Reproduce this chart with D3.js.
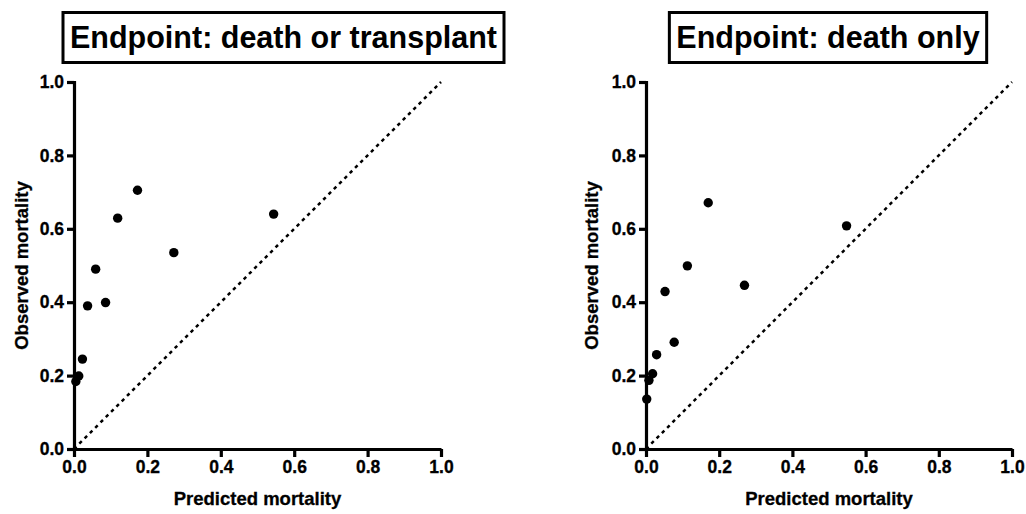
<!DOCTYPE html>
<html>
<head>
<meta charset="utf-8">
<script src="https://cdn.jsdelivr.net/npm/d3@7"></script>
<style>
  body { margin: 0; background: #fff; }
  svg { display: block; font-family: "Liberation Sans", Arial, sans-serif; font-weight: bold; }
</style>
</head>
<body>
<svg id="chart" width="1026" height="514"></svg>
<script>
const TICKS = [0, 0.2, 0.4, 0.6, 0.8, 1.0]
const TITLES = ["Endpoint: death or transplant", "Endpoint: death only"]
const X_LABEL = "Predicted mortality"
const Y_LABEL = "Observed mortality"

// death or transplant
const predLeft = [0.005, 0.013, 0.023, 0.037, 0.059, 0.086, 0.119, 0.173, 0.272, 0.544]
const obsLeft  = [0.184, 0.199, 0.245, 0.390, 0.490, 0.399, 0.629, 0.705, 0.535, 0.640]
// death only
const predRight = [0.002, 0.008, 0.018, 0.029, 0.052, 0.077, 0.113, 0.170, 0.269, 0.548]
const obsRight  = [0.136, 0.187, 0.205, 0.257, 0.429, 0.291, 0.499, 0.671, 0.446, 0.608]

const panels = [
  { title: TITLES[0], pred: predLeft, obs: obsLeft, x0: 74, x1: 441, titleCx: 283.5, yLabelX: 28 },
  { title: TITLES[1], pred: predRight, obs: obsRight, x0: 646, x1: 1012, titleCx: 828, yLabelX: 598 }
]

const svg = d3.select('#chart')
const Y0 = 449, Y1 = 82

panels.forEach(p => {
  const x = d3.scaleLinear().domain([0, 1]).range([p.x0, p.x1])
  const y = d3.scaleLinear().domain([0, 1]).range([Y0, Y1])
  const g = svg.append('g')

  // title in a box
  const t = g.append('text')
    .attr('x', p.titleCx).attr('y', 48)
    .attr('text-anchor', 'middle')
    .attr('font-size', 30.5)
    .text(p.title)
  const bb = t.node().getBBox()
  g.insert('rect', 'text')
    .attr('x', bb.x - 7).attr('y', 12.5)
    .attr('width', bb.width + 14).attr('height', 50)
    .attr('fill', 'none').attr('stroke', '#000').attr('stroke-width', 3)

  // identity line
  g.append('line')
    .attr('x1', x(0)).attr('y1', y(0))
    .attr('x2', x(1)).attr('y2', y(1))
    .attr('stroke', '#000').attr('stroke-width', 2.5)
    .attr('stroke-dasharray', '3.5,4')

  const xAxis = g.append('g')
    .attr('transform', `translate(0,${Y0})`)
    .call(d3.axisBottom(x).tickValues(TICKS).tickFormat(d3.format('.1f')).tickSize(8).tickSizeOuter(0).tickPadding(4))
  const yAxis = g.append('g')
    .attr('transform', `translate(${p.x0},0)`)
    .call(d3.axisLeft(y).tickValues(TICKS).tickFormat(d3.format('.1f')).tickSize(7).tickSizeOuter(0).tickPadding(3))
  ;[xAxis, yAxis].forEach(a => {
    a.attr('font-family', null).attr('font-size', 17.5)
    a.selectAll('path, line').style('stroke', '#000').style('stroke-width', '3.2px')
    a.selectAll('text').attr('fill', '#000').attr('stroke', '#000').attr('stroke-width', 0.3)
  })
  yAxis.select('.domain').attr('stroke-linecap', 'square')

  g.selectAll('circle')
    .data(p.pred.map((v, i) => [v, p.obs[i]]))
    .enter()
      .append('circle')
      .attr('cx', d => x(d[0]))
      .attr('cy', d => y(d[1]))
      .attr('r', 4.7)
      .attr('fill', '#000')

  g.append('text')
    .attr('x', (p.x0 + p.x1) / 2).attr('y', 505)
    .attr('text-anchor', 'middle').attr('font-size', 18.5)
    .attr('stroke', '#000').attr('stroke-width', 0.3)
    .text(X_LABEL)
  g.append('text')
    .attr('transform', `translate(${p.yLabelX},${(Y0 + Y1) / 2}) rotate(-90)`)
    .attr('text-anchor', 'middle').attr('font-size', 18.5)
    .attr('stroke', '#000').attr('stroke-width', 0.3)
    .text(Y_LABEL)
})
</script>
</body>
</html>
